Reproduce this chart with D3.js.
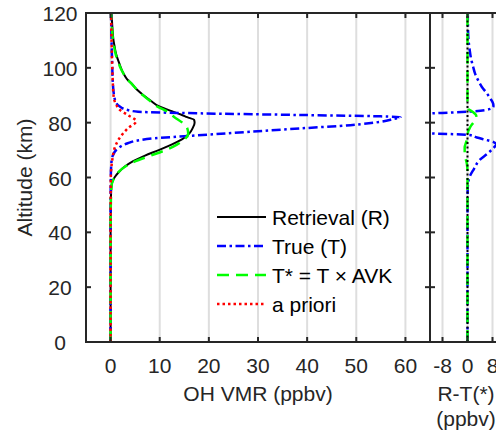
<!DOCTYPE html>
<html><head><meta charset="utf-8">
<script src="https://cdn.jsdelivr.net/npm/d3@7"></script>
<style>body{margin:0;background:#fff;overflow:hidden}</style>
</head><body>
<svg id="c" width="496" height="433"></svg>
<script>
// ---------- data ----------
const altTicks = [0,20,40,60,80,100,120];
const vmrTicks = [0,10,20,30,40,50,60];
const diffTicks = [-8,0,8];

const retrievalAlt = [0,20,40,50,56,58,60,62,64,66,68,70,72,74,76,78,80,81,82,83,84,86,88,90,92,94,96,98,100,102,104,106,108,110,114,120];
const retrievalVal = [0,0,0,0.05,0.15,0.3,0.8,1.7,2.9,4.6,7.0,9.8,12.4,14.6,16.0,16.7,17.1,17.0,15.6,14.3,12.7,9.8,8.2,6.7,5.4,4.4,3.3,2.6,2.1,1.7,1.3,1.0,0.8,0.6,0.4,0.2];

const trueAlt = [0,20,40,60,66,68.2,70.6,72.5,73.5,74.3,74.9,75.5,76.7,77.9,79.1,80.3,81.3,82.0,82.3,82.8,83.4,84.0,84.6,86,87,90,95,100,110,120];
const trueVal = [0,0,0,0.05,0.2,0.5,1.5,3.5,5.5,9,13.7,18.7,28.4,38.6,48.8,54.9,57.5,59.0,55,38.6,18.2,5.6,3.5,1.8,1.2,0.7,0.45,0.35,0.2,0.1];

const tStarAlt = [0,20,40,50,56,58,60,62,64,66,68,70,72,74,76,78,80,82,84,86,88,90,92,94,96,98,100,102,104,106,108,110,114,120];
const tStarVal = [0,0,0,0.05,0.15,0.3,0.8,1.6,3.0,5.1,8.2,11.2,13.5,15.1,15.8,15.6,14.6,13.0,11.6,9.4,8.0,6.6,5.4,4.4,3.3,2.6,2.0,1.6,1.2,0.9,0.7,0.5,0.3,0.1];

const aprioriAlt = [0,20,40,60,67,70.6,74.3,77.9,80.5,82.8,84.5,86.4,88,90,95,100,110,120];
const aprioriVal = [0,0,0,0.05,0.4,0.8,1.8,3.5,5.2,3.5,2.0,1.2,0.8,0.6,0.45,0.35,0.2,0.1];

const diffTAlt = [0,40,55,58,60.3,63,66.4,68.8,71,72,73,73.7,74.6,75.5,76.1,77,79,81,82,82.8,83.4,84,85.2,86,87,89,91,93,95,98,100.4,103,106.5,112.7,120];
const diffTVal = [0,0,0.05,0.2,0.7,2,3.9,6.5,8.5,9.2,8.2,6.0,3,0.7,-11.6,-22,-37,-40,-43,-25,-11.6,0.3,7.7,8.3,8.2,7.2,6.0,4.6,3.6,2.4,1.8,1.2,0.7,0.2,0.1];

const diffTStarAlt = [0,62,65,67,69,71,73,75,76.7,78,79,81,82.5,84,85,86,88,120];
const diffTStarVal = [0,0,-0.2,-0.6,-0.9,-0.9,-0.4,0,0.2,0.7,1.2,2.5,2.8,1.6,0.3,0.1,0,0];

const zeroAlt = [0,120];
const zeroVal = [0,0];

const legendLabels = ["Retrieval (R)","True (T)","T* = T \u00D7 AVK","a priori"];

// ---------- styles ----------
const FONT = "'Liberation Sans', Arial, sans-serif";
const AX = "#262626";
const GRID = "#dedede";
const sty = {
  R:  {stroke:"#000000", w:2,   dash:null},
  T:  {stroke:"#0000ff", w:2.5, dash:"9,3.5,2.5,3.5"},
  TS: {stroke:"#00ff00", w:2.5, dash:"12,7"},
  AP: {stroke:"#ff0000", w:2.5, dash:"2.5,3"},
  Z:  {stroke:"#000000", w:2,   dash:"2,2.5"}
};

// ---------- layout ----------
const svg = d3.select("#c");
const yTop = 13, yBot = 342;
const L = {x0:86, x1:430};
const Rp = {x0:430, x1:505};

const y = d3.scaleLinear().domain([0,120]).range([yBot, yTop]);
const xL = d3.scaleLinear().domain([-5,65]).range([L.x0, L.x1]);
const xR = d3.scaleLinear().domain([-12,12]).range([Rp.x0, Rp.x1]);

const defs = svg.append("defs");
defs.append("clipPath").attr("id","clipL").append("rect")
  .attr("x",L.x0).attr("y",yTop).attr("width",L.x1-L.x0).attr("height",yBot-yTop);
defs.append("clipPath").attr("id","clipR").append("rect")
  .attr("x",Rp.x0).attr("y",yTop).attr("width",Rp.x1-Rp.x0).attr("height",yBot-yTop);

// gridlines
svg.append("g").selectAll("line").data(vmrTicks).join("line")
  .attr("x1",d=>xL(d)).attr("x2",d=>xL(d)).attr("y1",yTop).attr("y2",yBot)
  .attr("stroke",GRID).attr("stroke-width",2);
svg.append("g").selectAll("line").data(diffTicks).join("line")
  .attr("x1",d=>xR(d)).attr("x2",d=>xR(d)).attr("y1",yTop).attr("y2",yBot)
  .attr("stroke",GRID).attr("stroke-width",2);

function series(g, xs, alts, vals, s){
  const pts = alts.map((a,i)=>[vals[i],a]);
  const line = d3.line().x(d=>xs(d[0])).y(d=>y(d[1])).curve(d3.curveMonotoneY);
  g.append("path").attr("d",line(pts)).attr("fill","none")
    .attr("stroke",s.stroke).attr("stroke-width",s.w)
    .attr("stroke-dasharray",s.dash).attr("stroke-linejoin","round");
}

// left panel curves
const gL = svg.append("g").attr("clip-path","url(#clipL)");
series(gL, xL, retrievalAlt, retrievalVal, sty.R);
series(gL, xL, trueAlt, trueVal, sty.T);
series(gL, xL, tStarAlt, tStarVal, sty.TS);
series(gL, xL, aprioriAlt, aprioriVal, sty.AP);

// right panel curves
const gR = svg.append("g").attr("clip-path","url(#clipR)");
series(gR, xR, diffTAlt, diffTVal, sty.T);
series(gR, xR, diffTStarAlt, diffTStarVal, sty.TS);
series(gR, xR, zeroAlt, zeroVal, sty.Z);

// frame
const fr = svg.append("g").attr("stroke",AX).attr("stroke-width",2).attr("fill","none");
fr.append("path").attr("d",`M${L.x0},${yTop}H496M${L.x0},${yBot}H496M${L.x0},${yTop-1}V${yBot+1}M${L.x1},${yTop-1}V${yBot+1}`);

// ticks
const TL = 5;
const tk = svg.append("g").attr("stroke",AX).attr("stroke-width",2);
altTicks.forEach(a=>{
  tk.append("line").attr("x1",L.x0).attr("x2",L.x0+TL).attr("y1",y(a)).attr("y2",y(a));
  tk.append("line").attr("x1",L.x1-TL).attr("x2",L.x1+TL).attr("y1",y(a)).attr("y2",y(a));
});
vmrTicks.forEach(v=>{
  tk.append("line").attr("x1",xL(v)).attr("x2",xL(v)).attr("y1",yTop).attr("y2",yTop+TL);
  tk.append("line").attr("x1",xL(v)).attr("x2",xL(v)).attr("y1",yBot).attr("y2",yBot-TL);
});
diffTicks.forEach(v=>{
  tk.append("line").attr("x1",xR(v)).attr("x2",xR(v)).attr("y1",yTop).attr("y2",yTop+TL);
  tk.append("line").attr("x1",xR(v)).attr("x2",xR(v)).attr("y1",yBot).attr("y2",yBot-TL);
});

// tick labels
const txt = svg.append("g").attr("font-family",FONT).attr("font-size",21).attr("fill",AX);
txt.selectAll("text.yt").data(altTicks).join("text").attr("class","yt")
  .attr("x",60).attr("y",d=>y(d)+8).attr("text-anchor","middle").text(d=>d);
txt.selectAll("text.xt").data(vmrTicks).join("text").attr("class","xt")
  .attr("x",d=>xL(d)).attr("y",373).attr("text-anchor","middle").text(d=>d);
txt.selectAll("text.xr").data(diffTicks).join("text").attr("class","xr")
  .attr("x",d=>xR(d)).attr("y",373).attr("text-anchor","middle").text(d=>d);

// axis titles
txt.append("text").attr("x",(L.x0+L.x1)/2).attr("y",401).attr("text-anchor","middle").text("OH VMR (ppbv)");
txt.append("text").attr("x",466).attr("y",401).attr("text-anchor","middle").text("R-T(*)");
txt.append("text").attr("x",466).attr("y",426).attr("text-anchor","middle").text("(ppbv)");
txt.append("text").attr("transform",`translate(32,${(yTop+yBot)/2}) rotate(-90)`)
  .attr("text-anchor","middle").text("Altitude (km)");

// legend
const legStyles = [sty.R, sty.T, sty.TS, sty.AP];
const lg = svg.append("g");
legendLabels.forEach((lab,i)=>{
  const yy = 217 + i*29;
  const s = legStyles[i];
  lg.append("line").attr("x1",217).attr("x2",266).attr("y1",yy).attr("y2",yy)
    .attr("stroke",s.stroke).attr("stroke-width",s.w).attr("stroke-dasharray",s.dash);
  lg.append("text").attr("x",272).attr("y",yy+7.5).attr("font-family",FONT)
    .attr("font-size",21).attr("fill","#000").text(lab);
});
</script>
</body></html>
